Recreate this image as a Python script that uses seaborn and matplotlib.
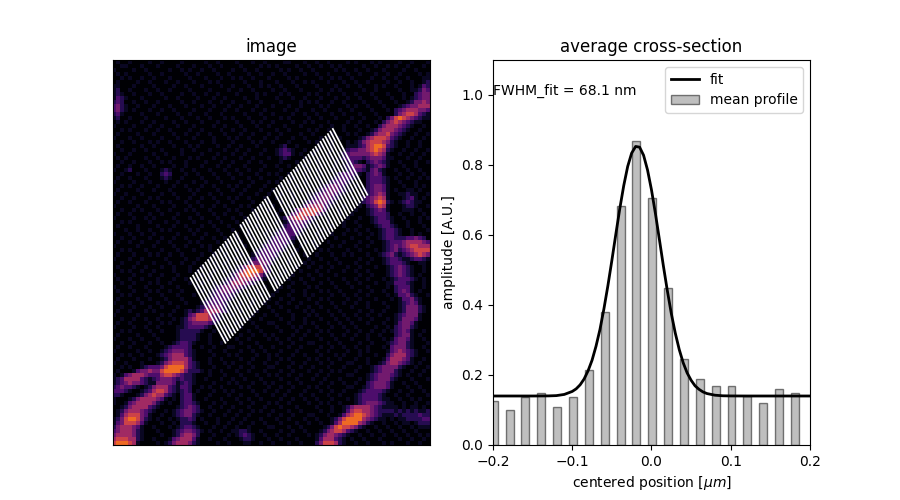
import numpy as np
import matplotlib
matplotlib.use("Agg")
import matplotlib.pyplot as plt
import seaborn as sns

# Mean profile bars
bar_centers = [-0.199, -0.179, -0.159, -0.139, -0.119, -0.099, -0.079, -0.059, -0.039, -0.019,
               0.001, 0.021, 0.041, 0.061, 0.081, 0.101, 0.121, 0.141, 0.161, 0.181]
bar_heights = [0.125, 0.099, 0.138, 0.150, 0.110, 0.136, 0.213, 0.379, 0.683, 0.870,
               0.705, 0.450, 0.245, 0.190, 0.168, 0.168, 0.140, 0.119, 0.159, 0.148]

# Fitted curve
fit_x = [-0.20, -0.15, -0.13, -0.12, -0.11, -0.10, -0.095, -0.09, -0.085, -0.08, -0.075, -0.07, -0.065,
         -0.06, -0.055, -0.05, -0.045, -0.04, -0.035, -0.03, -0.025, -0.02, -0.015, -0.01, -0.005, 0.0,
         0.005, 0.01, 0.015, 0.02, 0.025, 0.03, 0.035, 0.04, 0.045, 0.05, 0.055, 0.06, 0.065, 0.07,
         0.08, 0.09, 0.10, 0.12, 0.20]
fit_y = [0.140, 0.140, 0.1403, 0.1411, 0.1445, 0.153, 0.1605, 0.172, 0.1886, 0.212, 0.242, 0.282, 0.330,
         0.389, 0.455, 0.527, 0.602, 0.675, 0.741, 0.796, 0.834, 0.853, 0.851, 0.828, 0.786, 0.729,
         0.661, 0.587, 0.512, 0.441, 0.376, 0.320, 0.273, 0.235, 0.206, 0.185, 0.169, 0.159, 0.1516, 0.147,
         0.1423, 0.1406, 0.1402, 0.140, 0.140]

# White profile lines: first/last line ends per group, in image cells
group_counts = [19, 12, 25]
first_start = [(19.6, 54.2), (32.2, 41.0), (40.6, 32.4)]
first_end = [(28.6, 70.7), (41.1, 57.6), (49.4, 49.2)]
last_start = [(30.9, 42.6), (39.0, 34.0), (55.5, 17.0)]
last_end = [(39.8, 59.2), (47.9, 50.9), (64.4, 33.8)]

# Brightness of each digit class used in the image table below
digit_levels = [0.0, 0.06, 0.14, 0.23, 0.32, 0.43, 0.55, 0.67]

# Image intensities, estimated cell by cell (0-7)
image_rows = """
0100100001 0010000100 0001001000 0100010010 0001100010 0100100001 0100010100 0010010001
0011000100 0100001000 1000100100 0010000101 0100001001 0010010100 0001001001 0100100010
1000010010 0000100101 0010010000 1001001000 0010100100 1000001010 0100100010 0001001000
0101000001 0010000010 0100001001 0000100100 1001000010 0100100001 0010001001 0010000101
0010100100 1000100001 0001000100 1010010001 0000101000 0010010100 1000010010 0100100011
0100001001 0001001000 1000101000 0001000100 0100010010 1000100010 0100100001 0010010012
1100010000 1000010010 0010000100 1000100101 0010001000 0100001001 0010001010 0100010132
1200100010 0100100001 0000100001 0010010000 1001000100 0010010100 0001001000 0010011243
1210010001 0010000100 1001001000 0100001010 0010100001 0100100010 0100010001 0001002344
1321000100 0001001000 0100010010 0001001000 0100010010 0010001001 0010001000 1001012344
2320010010 0100000100 1000100100 1000100100 0010000101 0100010010 0001000100 0100124454
3421001000 1000100010 0010010001 0010001000 1000100100 0010100001 0100100010 0012344555
3421010001 0010010000 1000100010 0100010010 0001001000 1001000100 1000010001 0234555443
2310000100 0100001001 0001000100 0001000100 1000010010 0100010010 0010001000 0245665321
1200100010 0001000100 0100100010 1000100010 0010100001 0010001000 1001000102 4676543211
0101000100 1000010010 0010001000 0100010100 1000010010 1000100001 0010001024 5654321100
1000010001 0010001000 1000010010 0010001001 0001000100 0010010010 0100100245 5543210010
0010100010 0100100001 0010000100 1001000100 0100100001 0100100010 0010012455 5432100100
0100001000 1000010010 0100100010 0010010001 0010000100 1000010001 0100124556 4321001001
1000100100 0010001000 1000010001 0100100010 0100010010 0010100100 0012456665 3210010010
0010010001 0100100010 0010010000 1000010100 1000100001 0100010001 0124566654 2100100100
0100000100 1000010001 0100001001 0010001000 0012001000 0010010001 1123567763 2100100100
0010010010 0010000100 1000100010 0100100010 0123210010 0100010012 3344567652 1001001001
1000100000 1001000100 0010001000 1001000100 0123310100 1000100123 4444456541 0010010010
0101000010 0100010001 0100010010 0010010001 0012100010 0010010123 3332344431 1000100100
0010010001 0010100010 0001000100 1000100100 0010001001 0100001012 3210234321 0010001001
0100100100 1000010010 0010001001 0001000010 0100100010 0010001012 3443123431 0001001000
1001200010 0012100100 1000100010 0100100100 0010001001 0100010012 3332134210 0100100100
0010001001 0023200010 0100010001 0010001001 0100100010 0010001233 3210234310 0010010010
0100100010 0012100100 0010001000 1000100100 0010010001 0100012333 2100233321 0100100101
1000010001 0001001000 1001000100 0010010001 0100100010 0010123332 1000233321 0010001000
0010100100 0100010010 0010010001 0100100010 0010001001 0012344321 0100234431 0001001010
0100001000 1000100001 0100001000 1001000100 1000100100 0123444321 1001234431 0100110100
1001000100 0010010000 1000100100 0010001001 0010010001 1234443210 0010234541 0011211001
0010010001 0100001001 0010010001 0100100010 0100010001 2344432100 1002345651 0001231010
0100100010 0010100010 0100001000 1000010001 0010010012 3444321000 0012346762 1012321100
1000001000 1000010001 0010010010 0010100100 1000100135 5553210010 0010234651 0001221001
0010010100 0100100010 1000100001 0100010001 0010013566 6653100100 0100123431 0001110100
0100100001 0010001000 0100010010 0010001000 0100134666 6421000100 1000123332 0010010010
1000010010 1000010001 0010001000 1001001000 0012456654 2100100001 0010012332 1001000101
0010100001 0001001000 1000100100 0100100000 0101234432 1000100010 0100012333 1000100100
0100001000 0100010010 0010010001 0010001000 0012333321 0100010010 0010001233 2100100010
0001001001 0010100001 0100001000 1000100001 0123333210 0010100001 0100100123 3210010001
1000100100 1000001000 1001000100 0100100010 1233332100 0100010010 0010010123 3210010100
0010010001 0010010010 0010010010 0100010001 2333321000 0010001000 1000100123 3222334320
0100100100 0100100001 0100001001 0010000012 3333210010 1000100010 0010010012 3334555543
1000001000 1000010010 0010100010 0001000123 3332100100 0100010100 0100100012 3434566555
0010100010 0010001000 1000100100 0100001233 3321001000 0010100001 0010001012 3423456666
0100010001 0100100100 0010010010 0010012333 3210010010 0100010010 1000100123 4212345654
1000100100 0001000010 0100100001 0100123433 2100100001 0010001000 0010010012 3321123321
0010001000 1000100100 1000010010 0001244443 1000100010 1000100100 0100100012 3332100110
0100010010 0010010001 0010001001 0124666632 0010001001 0010010001 0010001001 2343210010
0010100100 1000010001 0100010010 1246777642 0001000100 0100100010 0100100001 2343210010
1000010001 0010001000 0010100001 2466765421 0010010001 0010001000 0010010001 2343210100
0100100100 0100010010 0100100012 3455543210 1000100100 1000100010 0100100010 1233321010
0010010001 0100100001 0010010123 5554321000 0100010010 0010010001 0010001001 1333210010
1000100010 0010001000 0100012344 4432100010 0010100001 0100001000 1000100001 0233310010
0100010001 0100100100 0010123444 3210001000 0100010010 0010100100 0010010010 0234310100
0010100010 0010001000 1000123333 2100100100 1000100010 1000010010 0100100001 0133421001
0100001001 0001000100 0001233332 1000010001 0010010001 0010100001 0010001000 1013342100
1000100100 0100100010 0012333321 0010010010 0100100100 0100010010 0100100010 0012343100
0010010001 0010001000 0123444321 0100100001 0010001001 0010001000 1000100001 0012444210
0100100010 1000010012 1235555321 0010001000 1000100010 1000100100 0010010010 0012444210
1000001000 0010100013 4666532100 1000010010 0100010001 0100010010 0100100100 0123444100
0010010010 0100010124 5666532100 0010100100 0010010010 0010001001 0010010001 0124443100
0100100001 0010100123 4444321000 0100010001 1000100010 1000100100 1000100010 0134431000
1000010010 0100001123 3332100010 0010001000 0100010100 0100010010 0100001001 0234421000
0010100001 0010001222 2210010001 1000100100 0010001001 0010100001 0010010010 1234310010
0100001000 1000001222 2100100100 0010010010 1000010010 0100010010 0100100100 0234410100
1000100100 0100001222 2100100010 0100100001 0100100100 0010001000 1000100010 1344310010
0010010001 0010012332 1000100100 0010001000 0010010001 1000100100 0010010001 2344210001
0100100010 0001233332 0010010001 1000100100 1000100100 0010010010 0100100010 3444210010
1000001001 0012344432 1000100010 0010010010 0010001000 0100100001 0010100001 3454321001
0010100100 0123455532 1000010001 0100001001 0100010010 0010001010 0010001002 4555321000
0100010001 0012455553 1000100100 0010010001 0010100001 0100100100 0100100013 5554310010
1001000100 0124566653 2100100010 1000100010 0100010010 0010010001 1000100124 5543210100
0010100123 3346777753 2100010001 0010010001 1000100100 1000100010 0010012344 4421001001
0100013445 4467777642 2210100100 0100100010 0010010001 0010010100 0100012344 4210010010
1013455543 3356654322 1000100010 0010001001 0100100100 0100100001 1000123444 3210100100
1235555321 2344432322 1001000100 1001000100 0010001000 1001000100 0010123444 2100010001
1234544321 1444431232 1000010001 0100010010 1000100100 0010010010 0100234443 1001001000
2343321012 4555321332 0010100100 0010100001 0010010001 0100100001 1001234443 1000100100
3332100123 5665321232 0100010010 1000010010 0100100010 0010010010 0012333321 0010010010
2210001245 6553210233 1000100001 0010001000 1001000100 1000100100 0123333210 0100100001
1000124555 5431010233 1001000100 0100100100 0010010010 0100010001 0123333211 0010010100
1001345555 4210100233 2100010010 0010010001 0100100001 0010100100 0123444321 1001001001
0012455553 2100001234 3200100100 1000100010 0010001000 0100010012 4555543211 1101011010
0124555432 1001012344 3210010001 0010010100 1000100100 0010010013 5665543222 2121212112
0135666431 0010012344 2100100010 0100100001 0010010001 1000100135 6776543211 1212222322
1246776421 0100101223 2010001000 1001000100 0100100010 0100012467 7775432110 1011222233
1346665310 0010010222 1001001001 0010010010 0010001001 0010013577 7754210010 0101101222
2455543100 1000101233 2100010010 0100100001 1000100100 0001246766 5421001001 0010010111
3455542100 0100012344 3210100100 1122100100 0010010010 0012456653 2100100100 1001001000
4555542100 0010012455 4200010001 0123210010 0100100001 0124554321 0010010010 0100100101
5666552100 1000134555 3100100010 0012210001 0010001000 0135553210 1001000100 0010010010
6777651000 0101245554 2100001001 0001100100 1000100100 0246665210 0100100010 1000100100
"""

image = np.array([[digit_levels[int(c)] for c in row.replace(" ", "")]
                  for row in image_rows.strip().splitlines()], dtype=float)

fig, (ax_img, ax_prof) = plt.subplots(1, 2, figsize=(9, 5), dpi=100)

sns.heatmap(image, cmap="inferno", vmin=0, vmax=1, cbar=False,
            xticklabels=False, yticklabels=False, ax=ax_img)
for spine in ax_img.spines.values():
    spine.set_visible(True)
    spine.set_linewidth(0.8)
for n, fs, fe, ls, le in zip(group_counts, first_start, first_end, last_start, last_end):
    x0 = np.linspace(fs[0], ls[0], n)
    y0 = np.linspace(fs[1], ls[1], n)
    x1 = np.linspace(fe[0], le[0], n)
    y1 = np.linspace(fe[1], le[1], n)
    for a, b, c, d in zip(x0, y0, x1, y1):
        ax_img.plot([a, c], [b, d], color="white", lw=1.25, solid_capstyle="butt")
ax_img.set_title("image")

sns.barplot(x=bar_centers, y=bar_heights, native_scale=True, width=0.5, color="gray",
            saturation=1, alpha=0.5, edgecolor="black", linewidth=1, ax=ax_prof)
sns.lineplot(x=fit_x, y=fit_y, color="black", lw=2, errorbar=None, ax=ax_prof)
ax_prof.lines[-1].set_label("fit")
ax_prof.containers[0].set_label("mean profile")
ax_prof.set_xlim(-0.2, 0.2)
ax_prof.set_ylim(0, 1.1)
ax_prof.set_xticks([-0.2, -0.1, 0.0, 0.1, 0.2])
ax_prof.set_yticks([0.0, 0.2, 0.4, 0.6, 0.8, 1.0])
ax_prof.set_xlabel(r"centered position [$\mu m$]")
ax_prof.set_ylabel("amplitude [A.U.]")
ax_prof.set_title("average cross-section")
ax_prof.text(-0.2, 1.0, "FWHM_fit = 68.1 nm")
ax_prof.legend(loc="upper right")

fig.savefig("out.png", dpi=100)
